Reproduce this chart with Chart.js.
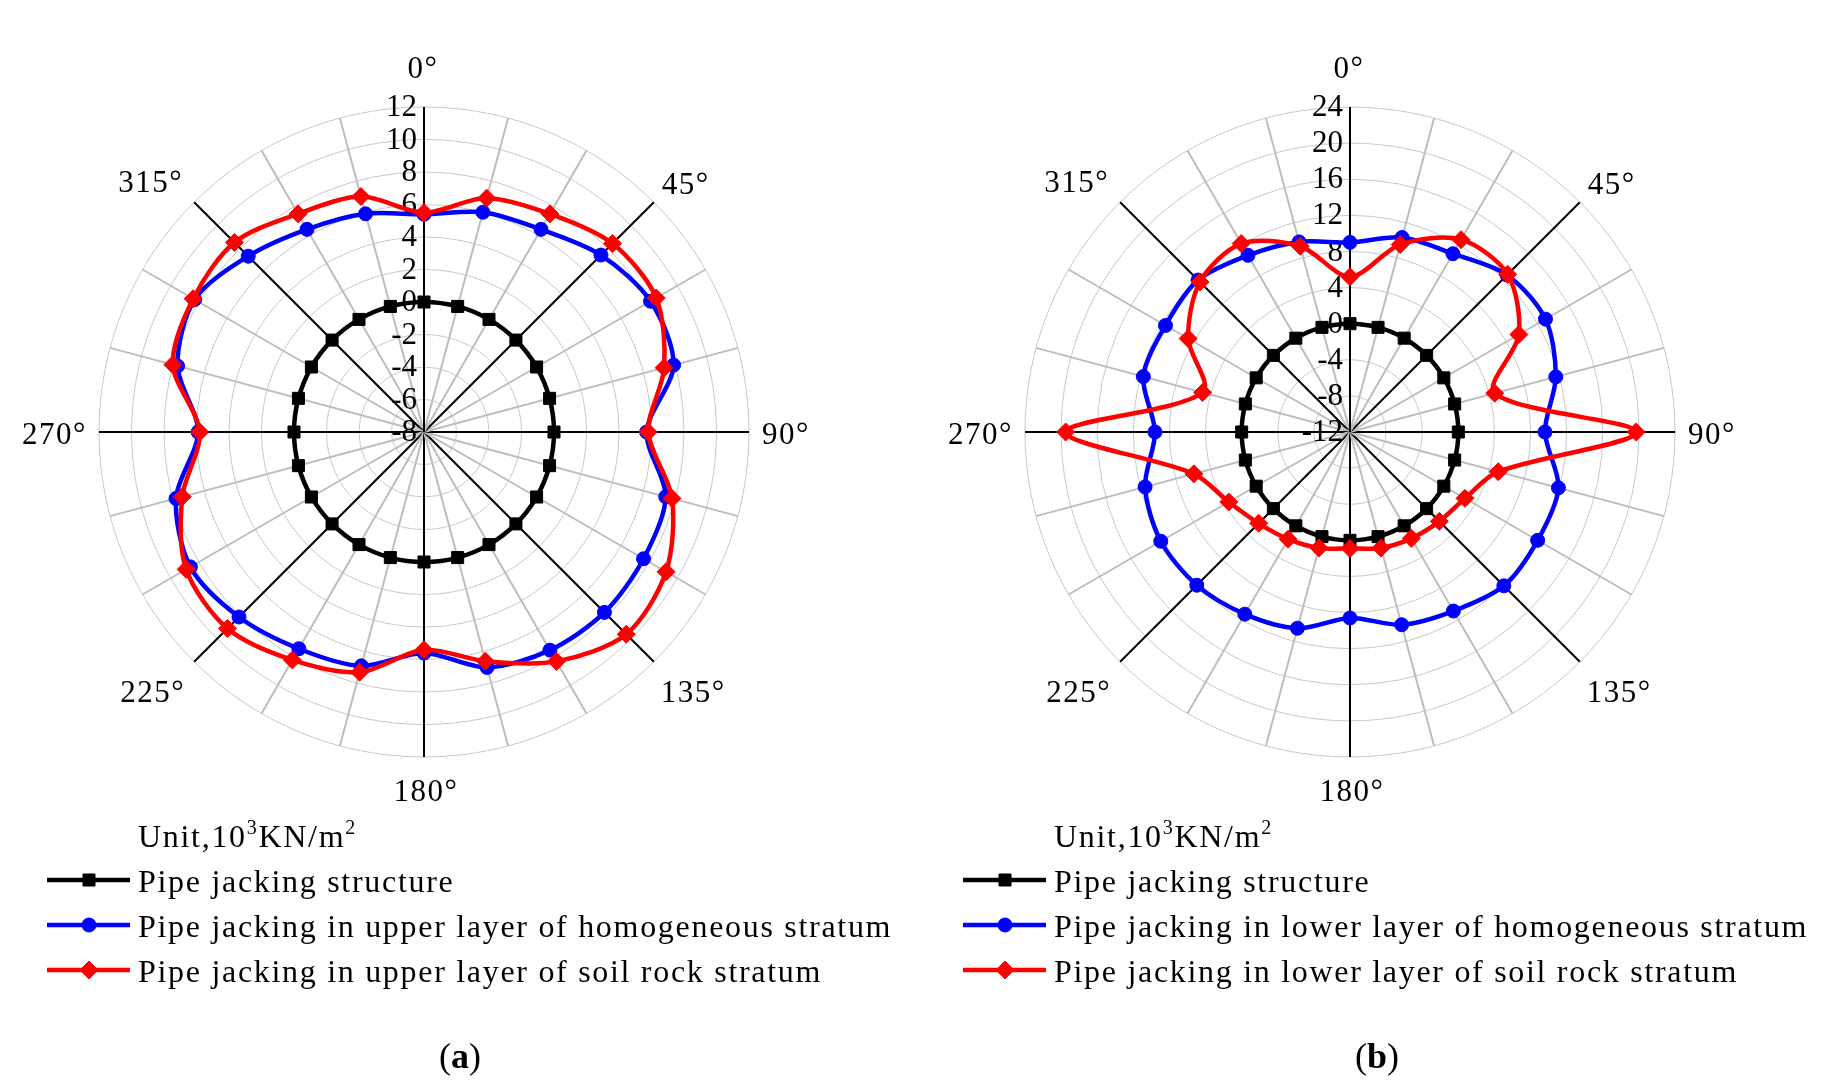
<!DOCTYPE html>
<html>
<head>
<meta charset="utf-8">
<script src="https://cdn.jsdelivr.net/npm/chart.js@4.4.1/dist/chart.umd.min.js"></script>
<style>
  html, body { margin: 0; padding: 0; background: #fff; }
  body { width: 1828px; height: 1087px; position: relative; overflow: hidden; }
  canvas { position: absolute; top: 0; }
</style>
</head>
<body>
<canvas id="chartA" width="914" height="1087" style="left:0px"></canvas>
<canvas id="chartB" width="914" height="1087" style="left:914px"></canvas>
<script>
// 24 directions, 15 degrees apart, clockwise from the top
const angleLabels = ['0°', '15°', '30°', '45°', '60°', '75°', '90°', '105°', '120°', '135°', '150°', '165°',
                     '180°', '195°', '210°', '225°', '240°', '255°', '270°', '285°', '300°', '315°', '330°', '345°'];

// (a) upper layer, unit 10^3 kN/m2
const structA = [0, 0, 0, 0, 0, 0, 0, 0, 0, 0, 0, 0, 0, 0, 0, 0, 0, 0, 0, 0, 0, 0, 0, 0];
const homoA   = [5.4, 6.0, 6.4, 7.4, 8.1, 7.9, 5.7, 7.4, 7.6, 7.7, 7.5, 7.0, 5.6, 6.9, 7.4, 8.1, 8.6, 7.8, 5.9, 7.7, 8.3, 7.3, 6.4, 5.9];
const soilA   = [5.5, 6.9, 7.5, 8.4, 8.5, 7.3, 5.8, 7.8, 9.2, 9.6, 8.3, 6.6, 5.4, 7.3, 8.2, 9.1, 8.9, 7.4, 5.8, 8.0, 8.4, 8.5, 7.5, 7.0];
const ticksA  = { min: -8, max: 12, step: 2 };

// (b) lower layer
const structB = [0, 0, 0, 0, 0, 0, 0, 0, 0, 0, 0, 0, 0, 0, 0, 0, 0, 0, 0, 0, 0, 0, 0, 0];
const homoB   = [9.0, 10.3, 10.8, 12.6, 13.0, 11.6, 9.6, 11.9, 12.0, 12.1, 10.9, 10.1, 8.6, 10.5, 11.3, 12.0, 12.2, 11.5, 9.6, 11.7, 11.6, 11.8, 10.6, 9.8];
const soilB   = [5.2, 9.5, 12.6, 12.7, 9.6, 4.6, 19.7, 5.0, 2.7, 2.0, 1.6, 1.3, 0.9, 1.3, 1.7, 2.3, 3.5, 5.9, 19.5, 4.9, 8.7, 11.5, 12.1, 9.3];
const ticksB  = { min: -12, max: 24, step: 4 };

const namesA = ['Pipe jacking structure',
                'Pipe jacking in upper layer of homogeneous stratum',
                'Pipe jacking in upper layer of soil rock stratum'];
const namesB = ['Pipe jacking structure',
                'Pipe jacking in lower layer of homogeneous stratum',
                'Pipe jacking in lower layer of soil rock stratum'];

const FONT = '"Liberation Serif", "Times New Roman", serif';

// where the direction labels sit, relative to the outer ring point
const anglePlace = {
    0:  { dx: -1,  dy: -29, align: 'center' },
    3:  { dx: 8,   dy: -8,  align: 'left' },
    6:  { dx: 13,  dy: 12,  align: 'left' },
    9:  { dx: 7,   dy: 40,  align: 'left' },
    12: { dx: 2,   dy: 44,  align: 'center' },
    15: { dx: -9,  dy: 40,  align: 'right' },
    18: { dx: -12, dy: 12,  align: 'right' },
    21: { dx: -11, dy: -10, align: 'right' }
};

const polarText = {
    id: 'polarText',
    beforeDatasetsDraw(chart) {
        const s = chart.scales.r;
        const ctx = chart.ctx;
        ctx.save();
        ctx.font = '31px ' + FONT;
        ctx.fillStyle = '#000';
        ctx.textAlign = 'right';
        ctx.textBaseline = 'middle';
        s.ticks.forEach(t => {
            ctx.fillText(String(t.value), s.xCenter - 7, s.yCenter - s.getDistanceFromCenterForValue(t.value) + 1);
        });
        ctx.restore();
    },
    afterDraw(chart, args, opts) {
        const s = chart.scales.r;
        const ctx = chart.ctx;
        ctx.save();
        ctx.fillStyle = '#000';
        ctx.font = '31px ' + FONT;
        ctx.letterSpacing = '1.5px';
        ctx.textBaseline = 'alphabetic';
        for (const k in anglePlace) {
            const p = s.getPointPosition(+k, s.drawingArea);
            const pl = anglePlace[k];
            ctx.textAlign = pl.align;
            ctx.fillText(chart.data.labels[k], p.x + pl.dx, p.y + pl.dy);
        }

        // legend
        const lx = opts.legendX;
        ctx.textAlign = 'left';
        ctx.letterSpacing = '1.7px';
        let x = lx + 91;
        ctx.font = '32px ' + FONT;
        ctx.fillText('Unit,10', x, 847);
        x += ctx.measureText('Unit,10').width;
        ctx.font = '20px ' + FONT;
        ctx.fillText('3', x, 834);
        x += ctx.measureText('3').width;
        ctx.font = '32px ' + FONT;
        ctx.fillText('KN/m', x, 847);
        x += ctx.measureText('KN/m').width;
        ctx.font = '20px ' + FONT;
        ctx.fillText('2', x, 834);

        const rows = [880, 925, 970];
        const legendOrder = [0, 1, 2];
        legendOrder.forEach((di, r) => {
            const ds = chart.data.datasets[di];
            const y = rows[r];
            ctx.strokeStyle = ds.borderColor;
            ctx.lineWidth = ds.borderWidth;
            ctx.beginPath();
            ctx.moveTo(lx, y);
            ctx.lineTo(lx + 83, y);
            ctx.stroke();
            ctx.fillStyle = ds.borderColor;
            ctx.lineWidth = 1;
            Chart.helpers.drawPoint(ctx, { pointStyle: ds.pointStyle, radius: ds.pointRadius, rotation: 0, borderWidth: 1 }, lx + 42, y);
            ctx.fillStyle = '#000';
            ctx.font = '32px ' + FONT;
            ctx.fillText(opts.names[di], lx + 91, y + 12);
        });

        // caption
        ctx.letterSpacing = '0px';
        const cap = opts.caption;
        ctx.font = '36px ' + FONT;
        const w1 = ctx.measureText('(').width;
        ctx.font = 'bold 36px ' + FONT;
        const w2 = ctx.measureText(cap).width;
        ctx.font = '36px ' + FONT;
        const w3 = ctx.measureText(')').width;
        const x0 = opts.captionX - (w1 + w2 + w3) / 2;
        ctx.fillText('(', x0, 1068);
        ctx.font = 'bold 36px ' + FONT;
        ctx.fillText(cap, x0 + w1, 1068);
        ctx.font = '36px ' + FONT;
        ctx.fillText(')', x0 + w1 + w2, 1068);
        ctx.restore();
    }
};

function makeChart(id, struct, homo, soil, tk, names, caption, pad, legendX, captionX) {
    return new Chart(document.getElementById(id).getContext('2d'), {
        type: 'radar',
        data: {
            labels: angleLabels,
            datasets: [{
                label: names[0],
                data: struct,
                borderColor: '#000000',
                backgroundColor: '#000000',
                pointStyle: 'rect',
                pointRadius: 8.5,
                order: 2
            }, {
                label: names[1],
                data: homo,
                borderColor: '#0000ff',
                backgroundColor: '#0000ff',
                pointStyle: 'circle',
                pointRadius: 7,
                order: 1
            }, {
                label: names[2],
                data: soil,
                borderColor: '#ff0000',
                backgroundColor: '#ff0000',
                pointStyle: 'rectRot',
                pointRadius: 9,
                order: 0
            }].map(d => Object.assign(d, {
                borderWidth: 4.5,
                fill: false,
                tension: 0.3,
                pointBackgroundColor: d.borderColor,
                pointBorderColor: d.borderColor,
                pointBorderWidth: 1,
                pointHoverRadius: d.pointRadius
            }))
        },
        options: {
            responsive: false,
            devicePixelRatio: 1,
            animation: false,
            layout: { padding: pad },
            plugins: {
                legend: { display: false },
                tooltip: { enabled: false },
                polarText: { names: names, caption: caption, legendX: legendX, captionX: captionX }
            },
            scales: {
                r: {
                    min: tk.min,
                    max: tk.max,
                    ticks: { stepSize: tk.step, display: false },
                    grid: { circular: true, color: '#c8c8c8', lineWidth: 1 },
                    angleLines: {
                        color: c => c.index % 3 === 0 ? '#000000' : '#bdbdbd',
                        lineWidth: 2
                    },
                    pointLabels: { display: false }
                }
            }
        },
        plugins: [polarText]
    });
}

makeChart('chartA', structA, homoA, soilA, ticksA, namesA, 'a', { left: 99, top: 107, right: 165, bottom: 330 }, 47, 460);
makeChart('chartB', structB, homoB, soilB, ticksB, namesB, 'b', { left: 111, top: 107, right: 153, bottom: 330 }, 49, 463);
</script>
</body>
</html>
